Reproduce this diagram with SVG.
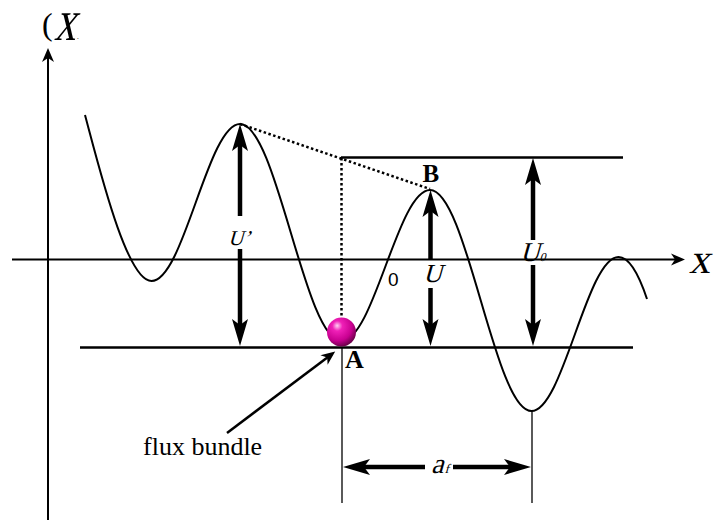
<svg xmlns="http://www.w3.org/2000/svg" width="716" height="529" viewBox="0 0 716 529">
<style>
.serif{font-family:"Liberation Serif","Times New Roman",serif;fill:#000}
.it{font-family:"Liberation Serif","Times New Roman",serif;font-style:normal;fill:#000}
.bold{font-weight:bold}
.sans{font-family:"Liberation Sans",Arial,sans-serif;fill:#000}
.thin{stroke:#000;stroke-width:1.3;fill:none}
.axis{stroke:#000;stroke-width:2;fill:none}
.level{stroke:#000;stroke-width:2.5;fill:none}
.dot{stroke:#000;stroke-width:2.5;stroke-dasharray:2.5 2.5;fill:none}
.bigarrow{stroke:#000;stroke-width:4.5;fill:none;marker-end:url(#big)}
.curve{stroke:#000;stroke-width:2;fill:none}
</style>
<defs>
<marker id="big" markerUnits="userSpaceOnUse" markerWidth="32" markerHeight="20" viewBox="-28 -10 30 20" refX="-10" refY="0" orient="auto">
<path d="M0,0 L-27,-8 L-21,0 L-27,8 Z" fill="#000"/>
</marker>
<marker id="small" markerUnits="userSpaceOnUse" markerWidth="18" markerHeight="14" viewBox="-16 -7 18 14" refX="-4" refY="0" orient="auto">
<path d="M0,0 L-14,-6 L-10,0 L-14,6 Z" fill="#000"/>
</marker>
<radialGradient id="ballGrad" cx="0.38" cy="0.32" r="0.7" fx="0.35" fy="0.28">
<stop offset="0" stop-color="#FFD0F2"/>
<stop offset="0.25" stop-color="#F020B8"/>
<stop offset="0.7" stop-color="#C80090"/>
<stop offset="1" stop-color="#6A0048"/>
</radialGradient>
</defs>

<g id="axes">
<line class="axis" x1="48" y1="520" x2="48" y2="52" marker-end="url(#small)"/>
<line class="axis" x1="12" y1="259.5" x2="681" y2="259.5" marker-end="url(#small)"/>
<text class="serif" x="42" y="35" font-size="32">(</text>
<text class="it" transform="translate(54,40) skewX(-14) scale(0.82,1.12)" font-size="52">x</text>
<text class="serif" x="77" y="39" font-size="7">.</text>
<text class="it" transform="translate(689,273) skewX(-12)" font-size="42">x</text>
</g>

<g id="levels">
<line class="level" x1="341" y1="157.5" x2="623" y2="157.5"/>
<line class="level" x1="80" y1="347.5" x2="633" y2="347.5"/>
<line class="thin" x1="342" y1="348" x2="342" y2="503"/>
<line class="thin" x1="532" y1="411" x2="532" y2="503"/>
</g>

<g id="potential">
<path class="curve" d="M85,115 C100,171 127,281 151.5,281 C183.7,281 207.8,124 240,124 C276.9,124 304.6,341 341.5,341 C373.7,341 397.8,190 430,190 C466.9,190 494.6,411 531.5,411 C563.1,411 586.9,257 618.5,257 C630,257 640,278 647,299"/>
</g>

<g id="connectors">
<line class="dot" x1="240" y1="124" x2="430" y2="189"/>
<line class="dot" x1="341.5" y1="158" x2="341.5" y2="318"/>
<line class="bigarrow" x1="240" y1="216" x2="240" y2="134"/>
<line class="bigarrow" x1="240" y1="249" x2="240" y2="336"/>
<line class="bigarrow" x1="430.5" y1="259" x2="430.5" y2="200"/>
<line class="bigarrow" x1="430.5" y1="288" x2="430.5" y2="336"/>
<line class="bigarrow" x1="533" y1="240" x2="533" y2="168"/>
<line class="bigarrow" x1="533" y1="265" x2="533" y2="336"/>
<line class="bigarrow" x1="425" y1="467" x2="353" y2="467"/>
<line class="bigarrow" x1="453" y1="467" x2="521" y2="467"/>
<line x1="227" y1="433" x2="332" y2="354" stroke="#000" stroke-width="2.5" marker-end="url(#small)"/>
</g>

<g id="ball">
<circle cx="341.5" cy="332" r="14.5" fill="url(#ballGrad)"/>
</g>

<g id="labels">
<text class="it" transform="translate(228,245) skewX(-16)" font-size="21">U’</text>
<text class="it" transform="translate(423,282) skewX(-16)" font-size="26">U</text>
<text class="it" transform="translate(520,261) skewX(-16)" font-size="27">U<tspan font-size="12" dx="0">0</tspan></text>
<text class="sans" x="388" y="286" font-size="19">0</text>
<text class="serif bold" x="422.5" y="181.5" font-size="25">B</text>
<text class="serif bold" x="345" y="368" font-size="26">A</text>
<text class="it" transform="translate(431,473) skewX(-16)" font-size="28">a<tspan font-size="13" dx="1">f</tspan></text>
<text class="serif" x="143" y="455" font-size="26">flux bundle</text>
</g>
</svg>
